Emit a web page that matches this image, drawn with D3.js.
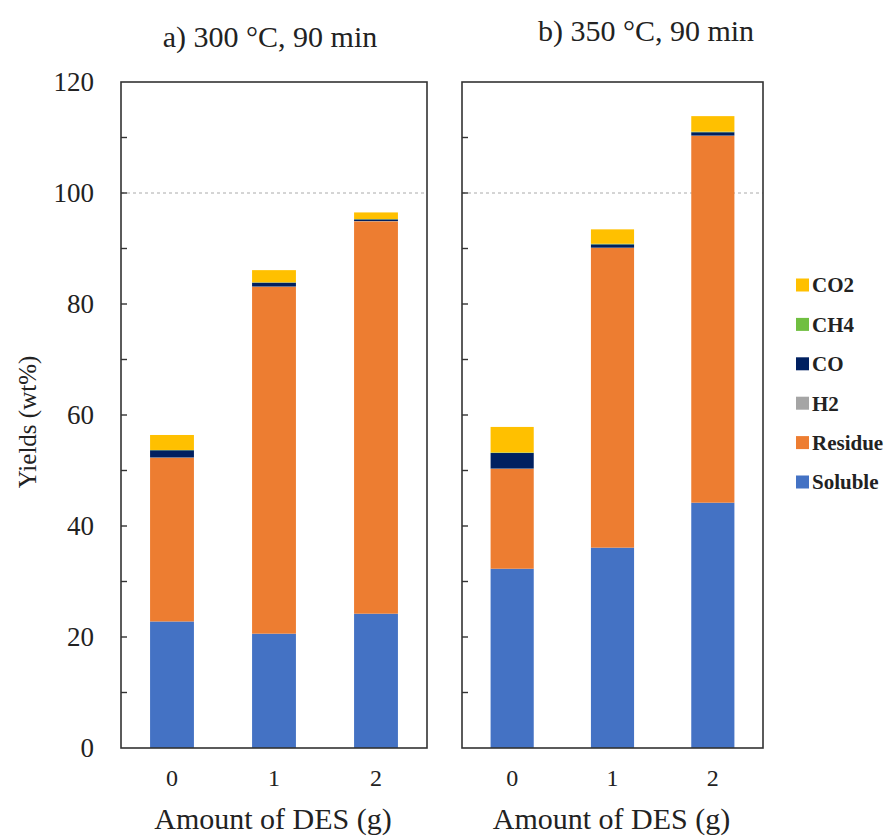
<!DOCTYPE html>
<html lang="en">
<head>
<meta charset="UTF-8">
<title>Yields vs DES</title>
<script src="https://cdn.jsdelivr.net/npm/d3@7"></script>
<style>
  body { margin: 0; background: #fff; }
  text { font-family: "Liberation Serif", "Times New Roman", serif; fill: #222; }
</style>
</head>
<body>
<svg id="chart" width="890" height="837"></svg>
<script>
// categories and series (bottom to top)
const categories = ["0", "1", "2"];
const seriesKeys = ["Soluble", "Residue", "H2", "CO", "CH4", "CO2"];
const colors = ["#4472C4", "#ED7D31", "#A5A5A5", "#002060", "#70BF41", "#FFC000"];
const yTicks = [0, 20, 40, 60, 80, 100, 120];

// a) 300 °C, 90 min
const soluble300 = [22.8, 20.6, 24.2];
const residue300 = [29.5, 62.5, 70.7];
const h2_300     = [0.05, 0.05, 0.05];
const co300      = [1.3, 0.7, 0.3];
const ch4_300    = [0.05, 0.05, 0.05];
const co2_300    = [2.7, 2.2, 1.2];

// b) 350 °C, 90 min
const soluble350 = [32.3, 36.1, 44.2];
const residue350 = [18.0, 54.0, 66.1];
const h2_350     = [0.05, 0.05, 0.05];
const co350      = [2.8, 0.6, 0.6];
const ch4_350    = [0.1, 0.1, 0.1];
const co2_350    = [4.6, 2.6, 2.8];

function rows(arrs) {
  return categories.map((c, i) => {
    const r = { cat: c };
    seriesKeys.forEach((k, j) => r[k] = arrs[j][i]);
    return r;
  });
}

const panels = [
  { title: "a) 300 \u00B0C, 90 min", x0: 121, x1: 427, titleX: 270, titleY: 47,
    data: rows([soluble300, residue300, h2_300, co300, ch4_300, co2_300]), labels: true },
  { title: "b) 350 \u00B0C, 90 min", x0: 462, x1: 763, titleX: 646, titleY: 41,
    data: rows([soluble350, residue350, h2_350, co350, ch4_350, co2_350]), labels: false }
];

const svg = d3.select("#chart");
const y = d3.scaleLinear().domain([0, 120]).range([748, 82]);
const color = d3.scaleOrdinal().domain(seriesKeys).range(colors);
const stack = d3.stack().keys(seriesKeys);

panels.forEach(p => {
  const x = d3.scaleBand().domain(categories).range([p.x0, p.x1]).paddingInner(0.57).paddingOuter(0.285);
  const g = svg.append("g");

  // dashed 100% line
  g.append("line")
    .attr("x1", p.x0).attr("x2", p.x1)
    .attr("y1", y(100)).attr("y2", y(100))
    .attr("stroke", "#aaa").attr("stroke-width", 1).attr("stroke-dasharray", "3,3");

  // stacked bars
  g.selectAll("g.layer")
    .data(stack(p.data))
    .join("g")
    .attr("class", "layer")
    .attr("fill", d => color(d.key))
    .selectAll("rect")
    .data(d => d)
    .join("rect")
    .attr("x", d => x(d.data.cat))
    .attr("width", x.bandwidth())
    .attr("y", d => y(d[1]))
    .attr("height", d => y(d[0]) - y(d[1]));

  // frame
  g.append("rect")
    .attr("x", p.x0).attr("y", y(120))
    .attr("width", p.x1 - p.x0).attr("height", y(0) - y(120))
    .attr("fill", "none").attr("stroke", "#333").attr("stroke-width", 1.6);

  // inner ticks on left side
  g.selectAll("line.tick")
    .data(d3.range(10, 120, 10))
    .join("line")
    .attr("class", "tick")
    .attr("x1", p.x0).attr("x2", p.x0 + 6)
    .attr("y1", d => y(d)).attr("y2", d => y(d))
    .attr("stroke", "#333").attr("stroke-width", 1.4);

  if (p.labels) {
    g.selectAll("text.ylab")
      .data(yTicks)
      .join("text")
      .attr("class", "ylab")
      .attr("x", 94).attr("y", d => y(d))
      .attr("dy", "0.35em")
      .attr("text-anchor", "end")
      .style("font-size", "27px")
      .text(d => d);
  }

  // x tick labels
  g.selectAll("text.xlab")
    .data(categories)
    .join("text")
    .attr("class", "xlab")
    .attr("x", d => x(d) + x.bandwidth() / 2)
    .attr("y", 786)
    .attr("text-anchor", "middle")
    .style("font-size", "24px")
    .text(d => d);

  g.append("text")
    .attr("x", (p.x0 + p.x1) / 2 - 1).attr("y", 829)
    .attr("text-anchor", "middle")
    .style("font-size", "30px")
    .text("Amount of DES (g)");

  g.append("text")
    .attr("x", p.titleX).attr("y", p.titleY)
    .attr("text-anchor", "middle")
    .style("font-size", "30px")
    .text(p.title);
});

// y axis title
svg.append("text")
  .attr("transform", "translate(36,422) rotate(-90)")
  .attr("text-anchor", "middle")
  .style("font-size", "25px")
  .text("Yields (wt%)");

// legend (top to bottom: reversed series order)
const legendKeys = seriesKeys.slice().reverse();
const leg = svg.append("g")
  .selectAll("g")
  .data(legendKeys)
  .join("g")
  .attr("transform", (d, i) => `translate(796,${285 + i * 39.4})`);
leg.append("rect")
  .attr("x", 0).attr("y", -6.5)
  .attr("width", 13).attr("height", 13)
  .attr("fill", d => color(d));
leg.append("text")
  .attr("x", 16).attr("y", 0)
  .attr("dy", "0.35em")
  .style("font-size", "21px")
  .style("font-weight", "bold")
  .text(d => d);
</script>
</body>
</html>
